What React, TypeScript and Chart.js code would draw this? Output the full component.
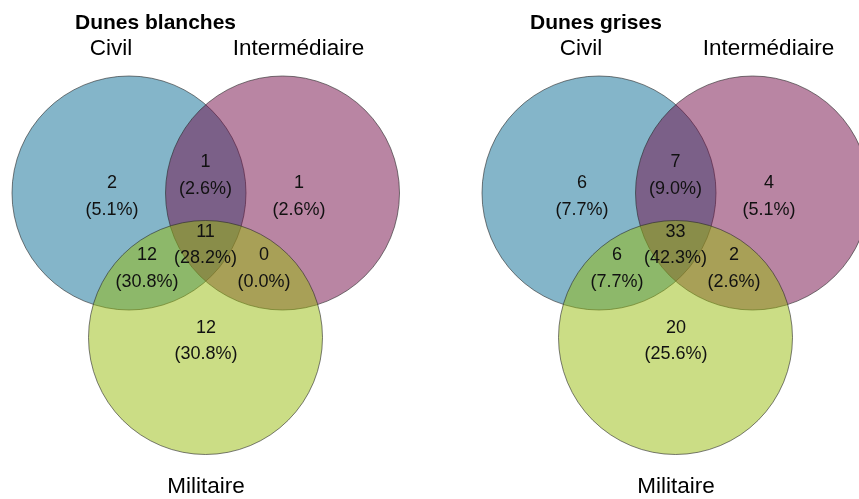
import React, { useEffect, useRef } from "react";
import { Chart, registerables } from "chart.js";

Chart.register(...registerables);

// ---- Data ----
const panelTitles = ["Dunes blanches", "Dunes grises"];
const setNames = ["Civil", "Intermédiaire", "Militaire"];
// region order: Civil only, Civil∩Inter, Inter only, all three, Civil∩Milit, Inter∩Milit, Milit only
const regionNames = [
  "Civil",
  "Civil ∩ Intermédiaire",
  "Intermédiaire",
  "Civil ∩ Intermédiaire ∩ Militaire",
  "Civil ∩ Militaire",
  "Intermédiaire ∩ Militaire",
  "Militaire",
];
const dunesBlanchesCounts = [2, 1, 1, 11, 12, 0, 12];
const dunesGrisesCounts = [6, 7, 4, 33, 6, 2, 20];
const panelCounts = [dunesBlanchesCounts, dunesGrisesCounts];

// ---- Layout (styling / geometry, not data) ----
const W = 859;
const H = 499;
const FONT = "'Liberation Sans', Arial, Helvetica, sans-serif";
const circleRadius = 117;
const circleCenters = [
  [129, 193],
  [282.5, 193],
  [205.5, 337.5],
];
const panelOffsets = [0, 470];
const titleLeft = [75, 530];
const titleBaseline = 28.5;
const setLabelPos = [
  [111, 55],
  [298.5, 55],
  [206, 493],
];
const regionLabelPos = [
  [112, 195],
  [205.5, 174],
  [299, 195],
  [205.5, 243.5],
  [147, 267],
  [264, 267],
  [206, 339.5],
];
const fillColors = [
  "rgba(9,107,147,0.5)",
  "rgba(115,11,71,0.5)",
  "rgba(151,187,11,0.5)",
];
const strokeColor = "rgba(40,40,40,0.6)";

const labelsPlugin = {
  id: "vennLabels",
  afterDatasetsDraw(chart: any) {
    const { ctx } = chart;
    const xs = chart.scales.x;
    const ys = chart.scales.y;
    const px = (v: number) => xs.getPixelForValue(v);
    const py = (v: number) => ys.getPixelForValue(v);
    ctx.save();
    ctx.fillStyle = "#000";
    panelTitles.forEach((title, p) => {
      const off = panelOffsets[p];
      ctx.textBaseline = "alphabetic";
      ctx.textAlign = "left";
      ctx.font = `bold 21px ${FONT}`;
      ctx.fillText(title, px(titleLeft[p]), py(titleBaseline));

      ctx.textAlign = "center";
      ctx.font = `22.5px ${FONT}`;
      setNames.forEach((name, s) => {
        ctx.fillText(name, px(off + setLabelPos[s][0]), py(setLabelPos[s][1]));
      });

      const counts = panelCounts[p];
      const total = counts.reduce((a, b) => a + b, 0);
      ctx.font = `18px ${FONT}`;
      ctx.fillStyle = "#111";
      counts.forEach((c, r) => {
        const [lx, ly] = regionLabelPos[r];
        const pct = ((c / total) * 100).toFixed(1);
        ctx.fillText(String(c), px(off + lx), py(ly - 6.8));
        ctx.fillText(`(${pct}%)`, px(off + lx), py(ly + 19.7));
      });
      ctx.fillStyle = "#000";
    });
    ctx.restore();
  },
};

export default function App() {
  const canvasRef = useRef<HTMLCanvasElement | null>(null);

  useEffect(() => {
    const canvas = canvasRef.current;
    if (!canvas) return;
    const datasets: any[] = [];
    panelTitles.forEach((title, p) => {
      setNames.forEach((name, s) => {
        datasets.push({
          label: `${title} – ${name}`,
          data: [
            {
              x: panelOffsets[p] + circleCenters[s][0],
              y: circleCenters[s][1],
            },
          ],
          pointStyle: "circle",
          pointRadius: (ctx: any) => {
            const sc = ctx.chart.scales.x;
            return Math.abs(
              sc.getPixelForValue(circleRadius) - sc.getPixelForValue(0)
            );
          },
          backgroundColor: fillColors[s],
          borderColor: strokeColor,
          borderWidth: 1,
          showLine: false,
          clip: false,
          order: 3 - s,
        });
      });
    });

    const chart = new Chart(canvas, {
      type: "scatter",
      data: { datasets },
      options: {
        responsive: false,
        animation: false,
        devicePixelRatio: 1,
        events: [],
        layout: { padding: 0 },
        plugins: {
          legend: { display: false },
          title: { display: false },
          tooltip: { enabled: false },
        },
        scales: {
          x: { type: "linear", min: 0, max: W, display: false },
          y: { type: "linear", min: 0, max: H, reverse: true, display: false },
        },
      },
      plugins: [labelsPlugin],
    });
    return () => chart.destroy();
  }, []);

  return (
    <div
      style={{
        position: "absolute",
        left: 0,
        top: 0,
        width: W,
        height: H,
        background: "#fff",
      }}
    >
      <canvas
        ref={canvasRef}
        width={W}
        height={H}
        style={{ display: "block", width: W, height: H }}
      />
    </div>
  );
}
